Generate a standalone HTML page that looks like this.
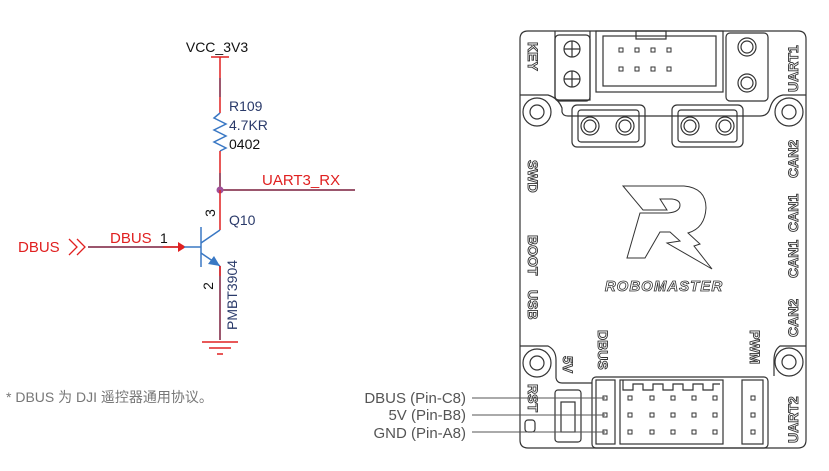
<!DOCTYPE html>
<html><head><meta charset="utf-8"><style>
body{margin:0;background:#fff;}
svg{display:block;}
text{font-family:"Liberation Sans","Noto Sans CJK SC",sans-serif;}
</style></head><body>
<svg width="829" height="471" viewBox="0 0 829 471" xmlns="http://www.w3.org/2000/svg">
<!-- Schematic -->
<text x="217" y="52" font-size="14" text-anchor="middle" fill="#111">VCC_3V3</text>
<line x1="211" y1="57" x2="229" y2="57" stroke="#e02020" stroke-width="1.5"/>
<line x1="220" y1="57" x2="220" y2="78" stroke="#e02020" stroke-width="1.5"/>
<line x1="220" y1="78" x2="220" y2="97" stroke="#7a1f3d" stroke-width="1.5"/>
<line x1="220" y1="97" x2="220" y2="113" stroke="#e02020" stroke-width="1.5"/>
<polyline points="220,113 214,118 226,124 214,130 226,136 214,142 226,148 220,151" fill="none" stroke="#3a78c4" stroke-width="1.5"/>
<line x1="220" y1="151" x2="220" y2="173" stroke="#e02020" stroke-width="1.5"/>
<line x1="220" y1="173" x2="220" y2="190" stroke="#7a1f3d" stroke-width="1.5"/>
<text x="229" y="111" font-size="14" fill="#2a3a6a">R109</text>
<text x="229" y="130" font-size="14" fill="#2a3a6a">4.7KR</text>
<text x="229" y="149" font-size="14" fill="#111">0402</text>
<line x1="220" y1="190" x2="355" y2="190" stroke="#7a1f3d" stroke-width="1.5"/>
<circle cx="220" cy="190" r="3.5" fill="#a0509a"/>
<text x="262" y="185" font-size="15" fill="#e02020">UART3_RX</text>
<line x1="220" y1="190" x2="220" y2="230" stroke="#e02020" stroke-width="1.5"/>
<text x="215" y="213" font-size="14" fill="#111" transform="rotate(-90 215 213)" text-anchor="middle">3</text>
<text x="229" y="225" font-size="14" fill="#2a3a6a">Q10</text>
<line x1="201" y1="227" x2="201" y2="267" stroke="#3a78c4" stroke-width="1.5"/>
<line x1="201" y1="243" x2="220" y2="230" stroke="#3a78c4" stroke-width="1.5"/>
<line x1="201" y1="253" x2="220" y2="266" stroke="#3a78c4" stroke-width="1.5"/>
<polygon points="220,266 208,264 214,256" fill="#3a78c4"/>
<line x1="220" y1="266" x2="220" y2="340" stroke="#7a1f3d" stroke-width="1.5"/>
<line x1="220" y1="266" x2="220" y2="276" stroke="#e02020" stroke-width="1.5"/>
<text x="213" y="286" font-size="14" fill="#111" transform="rotate(-90 213 286)" text-anchor="middle">2</text>
<text x="237" y="330" font-size="14" fill="#2a3a6a" transform="rotate(-90 237 330)">PMBT3904</text>
<line x1="88" y1="247" x2="184" y2="247" stroke="#7a1f3d" stroke-width="1.5"/>
<line x1="163" y1="247" x2="184" y2="247" stroke="#e02020" stroke-width="1.5"/>
<polygon points="178,242 186,247 178,252" fill="#e02020"/>
<line x1="184" y1="247" x2="201" y2="247" stroke="#3a78c4" stroke-width="1.5"/>
<text x="18" y="252" font-size="15" fill="#e02020">DBUS</text>
<polyline points="69,239 77,247 69,255" fill="none" stroke="#e02020" stroke-width="1.3"/>
<polyline points="77,239 85,247 77,255" fill="none" stroke="#e02020" stroke-width="1.3"/>
<text x="110" y="243" font-size="15" fill="#e02020">DBUS</text>
<text x="160" y="243" font-size="14" fill="#111">1</text>
<line x1="202" y1="342" x2="238" y2="342" stroke="#e02020" stroke-width="1.5"/>
<line x1="209" y1="348" x2="231" y2="348" stroke="#e02020" stroke-width="1.5"/>
<line x1="217" y1="354" x2="223" y2="354" stroke="#e02020" stroke-width="1.5"/>
<text x="6" y="402" font-size="14" fill="#777">*  DBUS 为 DJI 遥控器通用协议。</text>

<!-- Board -->
<g fill="none" stroke="#333" stroke-width="1.2">
<path d="M528,31 L798,31 Q806,31 806,39 L806,440 Q806,448 798,448 L528,448 Q520,448 520,440 L520,39 Q520,31 528,31 Z"/>
<path d="M520,95 L548,95 Q558,98 562,108 L562,112 Q563,116 568,116 L760,116 Q768,116 770,108 Q773,97 783,95 L806,95"/>
<path d="M555,31 L555,98 M590,31 L590,100 L559,100 Q555,100 555,96"/>
<rect x="555" y="35" width="35" height="66" rx="4"/>
<rect x="596" y="31" width="127" height="61"/>
<rect x="603" y="36" width="113" height="50"/>
<rect x="636" y="31" width="30" height="8"/>
<rect x="726" y="33" width="42" height="68" rx="4"/>
<rect x="572" y="105" width="73" height="42" rx="5"/>
<rect x="578" y="110" width="61" height="32" rx="3"/>
<rect x="672" y="105" width="71" height="42" rx="5"/>
<rect x="678" y="110" width="59" height="32" rx="3"/>
<circle cx="590" cy="126" r="9"/><circle cx="590" cy="126" r="6"/>
<circle cx="625" cy="126" r="9"/><circle cx="625" cy="126" r="6"/>
<circle cx="690" cy="126" r="9"/><circle cx="690" cy="126" r="6"/>
<circle cx="725" cy="126" r="9"/><circle cx="725" cy="126" r="6"/>
<circle cx="572" cy="49" r="8"/><path d="M564,49 L580,49 M572,41 L572,57"/>
<circle cx="572" cy="79" r="8"/><path d="M564,79 L580,79 M572,71 L572,87"/>
<circle cx="747" cy="47" r="9"/><circle cx="747" cy="47" r="6"/>
<circle cx="747" cy="83" r="9"/><circle cx="747" cy="83" r="6"/>
<circle cx="537" cy="112" r="14"/><circle cx="537" cy="112" r="7"/>
<circle cx="789" cy="112" r="14"/><circle cx="789" cy="112" r="7"/>
<path d="M520,346 L548,346 Q556,350 556,360 L556,378 Q557,383 562,383 L592,383"/>
<path d="M806,346 L780,346 Q774,350 774,360 L774,376"/>
<circle cx="537" cy="363" r="14"/><circle cx="537" cy="363" r="7"/>
<circle cx="789" cy="362" r="14"/><circle cx="789" cy="362" r="7"/>
<rect x="592" y="377" width="176" height="71" rx="4"/>
<rect x="596" y="380" width="19" height="64"/>
<rect x="620" y="380" width="103" height="64"/>
<rect x="742" y="380" width="21" height="64"/>
<rect x="555" y="390" width="26" height="52" rx="3"/>
<rect x="561" y="402" width="14" height="30"/>
<rect x="525" y="420" width="10" height="12" rx="3"/>
<path d="M623,380 L623,390 L633,390 L633,384 L643,384 L643,390 L653,390 L653,384 L663,384 L663,390 L673,390 L673,384 L683,384 L683,390 L693,390 L693,384 L703,384 L703,390 L713,390 L713,384 L720,384"/>
</g>
<g fill="none" stroke="#333" stroke-width="1">
<rect x="619" y="48" width="4" height="4"/><rect x="635" y="48" width="4" height="4"/><rect x="651" y="48" width="4" height="4"/><rect x="667" y="48" width="4" height="4"/>
<rect x="619" y="67" width="4" height="4"/><rect x="635" y="67" width="4" height="4"/><rect x="651" y="67" width="4" height="4"/><rect x="667" y="67" width="4" height="4"/>
<rect x="603" y="396" width="4" height="4"/><rect x="603" y="413" width="4" height="4"/><rect x="603" y="430" width="4" height="4"/>
<rect x="628" y="396" width="4" height="4"/><rect x="628" y="413" width="4" height="4"/><rect x="628" y="430" width="4" height="4"/>
<rect x="650" y="396" width="4" height="4"/><rect x="650" y="413" width="4" height="4"/><rect x="650" y="430" width="4" height="4"/>
<rect x="671" y="396" width="4" height="4"/><rect x="671" y="413" width="4" height="4"/><rect x="671" y="430" width="4" height="4"/>
<rect x="692" y="396" width="4" height="4"/><rect x="692" y="413" width="4" height="4"/><rect x="692" y="430" width="4" height="4"/>
<rect x="713" y="396" width="4" height="4"/><rect x="713" y="413" width="4" height="4"/><rect x="713" y="430" width="4" height="4"/>
<rect x="751" y="396" width="4" height="4"/><rect x="751" y="413" width="4" height="4"/><rect x="751" y="430" width="4" height="4"/>
</g>
<!-- logo -->
<path d="M623,186 L684,186 Q706,188 706,208 Q705,228 688,233 L700,244 L694,246 L712,269 L667,243 L680,241 L670,232 L660,232 L645,258 L627,258 L640,213 L668,213 Q680,212 680,205 Q680,200 672,199 L660,199 L667,210 L643,210 Z" fill="none" stroke="#333" stroke-width="1"/>
<text x="664" y="291" font-size="15" font-weight="bold" font-style="italic" text-anchor="middle" fill="#fff" stroke="#333" stroke-width="0.8" letter-spacing="1">ROBOMASTER</text>
<!-- board labels -->
<g font-size="14" fill="#fff" stroke="#333" stroke-width="0.9" font-weight="bold">
<text transform="translate(528,42) rotate(90)">KEY</text>
<text transform="translate(528,160) rotate(90)">SWD</text>
<text transform="translate(528,235) rotate(90)">BOOT</text>
<text transform="translate(528,290) rotate(90)">USB</text>
<text transform="translate(528,384) rotate(90)">RST</text>
<text transform="translate(563,356) rotate(90)">5V</text>
<text transform="translate(598,330) rotate(90)">DBUS</text>
<text transform="translate(750,330) rotate(90)">PWM</text>
<text transform="translate(798,92) rotate(-90)">UART1</text>
<text transform="translate(798,178) rotate(-90)">CAN2</text>
<text transform="translate(798,232) rotate(-90)">CAN1</text>
<text transform="translate(798,278) rotate(-90)">CAN1</text>
<text transform="translate(798,337) rotate(-90)">CAN2</text>
<text transform="translate(798,443) rotate(-90)">UART2</text>
</g>
<!-- pin labels -->
<g font-size="15" fill="#555" text-anchor="end">
<text x="466" y="403">DBUS (Pin-C8)</text>
<text x="466" y="420">5V (Pin-B8)</text>
<text x="466" y="438">GND (Pin-A8)</text>
</g>
<g stroke="#555" stroke-width="1">
<line x1="472" y1="398" x2="605" y2="398"/>
<line x1="472" y1="415" x2="605" y2="415"/>
<line x1="472" y1="432" x2="605" y2="432"/>
</g>
</svg>
</body></html>
